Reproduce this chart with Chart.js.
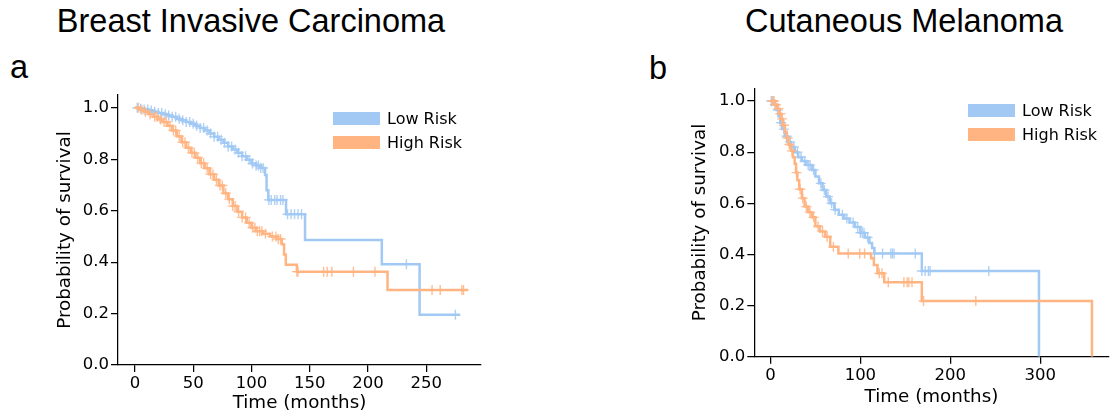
<!DOCTYPE html>
<html>
<head>
<meta charset="utf-8">
<script src="https://cdn.jsdelivr.net/npm/chart.js@4.4.1/dist/chart.umd.min.js"></script>
<style>
  body { margin: 0; background: #fff; width: 1115px; height: 419px; overflow: hidden; position: relative; }
  canvas { position: absolute; top: 0; }
  .title { position: absolute; font-family: "Liberation Sans", Arial, sans-serif; font-size: 32.5px; line-height: 32px; white-space: nowrap; color: #000; transform: translateX(-50%); }
  .panel { position: absolute; font-family: "Liberation Sans", Arial, sans-serif; font-size: 32.5px; line-height: 32px; color: #000; }
  .leg { position: absolute; display: flex; align-items: center; font-family: "DejaVu Sans", sans-serif; font-size: 16px; color: #000; height: 13px; white-space: nowrap; }
  .leg span.patch { display: inline-block; width: 47px; height: 13px; margin-right: 7px; }
</style>
</head>
<body>
<div class="title" style="left:251px; top:5px;">Breast Invasive Carcinoma</div>
<div class="title" style="left:904px; top:5px;">Cutaneous Melanoma</div>
<div class="panel" style="left:10px; top:51px;">a</div>
<div class="panel" style="left:649px; top:52px;">b</div>
<canvas id="chartA" width="557" height="419" style="left:0"></canvas>
<canvas id="chartB" width="558" height="419" style="left:557px"></canvas>
<div id="legends"></div>
<script>
const groupNames = ["Low Risk", "High Risk"];
const groupColors = ["#a1c9f4", "#ffb482"];

// Breast Invasive Carcinoma - Kaplan-Meier steps
const brcaLowTime = [0, 4, 8, 12, 16, 20, 24, 28, 32, 36, 40, 44, 48, 52, 56, 60, 64, 68, 72, 76, 80, 84, 88, 92, 96, 100, 104, 108, 111.7, 113, 114.5, 129.7, 146, 211.9, 244.3, 279];
const brcaLowSurv = [1.0, 0.997, 0.994, 0.99, 0.985, 0.98, 0.975, 0.97, 0.965, 0.958, 0.952, 0.945, 0.938, 0.93, 0.922, 0.912, 0.9, 0.888, 0.876, 0.864, 0.85, 0.838, 0.825, 0.812, 0.798, 0.784, 0.776, 0.766, 0.739, 0.68, 0.642, 0.586, 0.486, 0.392, 0.195, 0.195];
const brcaLowCensor = [2, 5, 8, 11, 14, 17, 20, 23, 26, 29, 32, 35, 38, 41, 44, 47, 50, 53, 56, 59, 62, 65, 68, 71, 74, 77, 80, 83, 86, 89, 92, 95, 98, 101, 104, 106, 108, 110, 115, 117, 120, 122, 125, 127, 131, 134, 137, 140, 143, 233, 275];

const brcaHighTime = [0, 4, 8, 12, 16, 20, 24, 28, 32, 36, 40, 44, 48, 52, 56, 60, 64, 68, 72, 76, 80, 84, 88, 92, 96, 100, 104, 110, 116, 122, 126, 128, 129.5, 139, 216.8, 286];
const brcaHighSurv = [1.0, 0.993, 0.985, 0.975, 0.965, 0.955, 0.945, 0.93, 0.912, 0.89, 0.866, 0.845, 0.825, 0.806, 0.785, 0.765, 0.742, 0.72, 0.698, 0.668, 0.645, 0.618, 0.596, 0.574, 0.553, 0.534, 0.52, 0.51, 0.5, 0.49, 0.47, 0.43, 0.39, 0.363, 0.292, 0.292];
const brcaHighCensor = [3, 6, 9, 13, 17, 19, 22, 25, 27, 30, 33, 35, 38, 41, 43, 46, 49, 51, 54, 57, 59, 62, 65, 67, 70, 73, 75, 78, 81, 84, 86, 89, 92, 95, 98, 101, 103, 105, 107, 109, 112, 118, 121, 123, 125, 139, 140, 162, 165, 169, 187.5, 206, 255, 262, 280.6, 282];

// Cutaneous Melanoma - Kaplan-Meier steps
const skcmLowTime = [0, 4, 7, 9, 11, 13, 16, 19, 23, 27, 31, 35, 40, 46, 50, 54, 58, 62, 66, 71, 76, 82, 88, 94, 100, 105, 110, 113, 115.6, 168.3, 298.5];
const skcmLowSurv = [1.0, 0.985, 0.965, 0.94, 0.915, 0.89, 0.862, 0.84, 0.82, 0.8, 0.78, 0.765, 0.75, 0.73, 0.705, 0.678, 0.652, 0.626, 0.6, 0.575, 0.555, 0.54, 0.525, 0.507, 0.485, 0.466, 0.445, 0.425, 0.404, 0.335, 0];
const skcmLowCensor = [1, 3, 5, 8, 12, 15, 18, 22, 26, 30, 34, 38, 42, 44, 48, 56, 60, 64, 68, 72, 80, 85, 92, 97, 100, 102, 104, 108, 115.6, 124.7, 133.8, 135.6, 137.4, 161, 168.3, 172, 175.6, 177.4, 242.8];

const skcmHighTime = [0, 5, 8, 10, 12, 14, 16, 18, 20, 23, 25, 27, 28.5, 30, 32, 35, 38, 42, 46, 50, 55, 61, 66.5, 75.6, 112, 115, 119, 126.5, 168.3, 357.4];
const skcmHighSurv = [1.0, 0.985, 0.97, 0.95, 0.93, 0.905, 0.88, 0.855, 0.83, 0.805, 0.78, 0.755, 0.72, 0.69, 0.655, 0.62, 0.587, 0.565, 0.545, 0.51, 0.49, 0.469, 0.43, 0.404, 0.385, 0.359, 0.326, 0.291, 0.218, 0];
const skcmHighCensor = [2, 4, 6, 9, 11, 13, 15, 19, 21, 24, 29, 33, 36, 40, 44, 48, 53, 58, 63, 70, 86.5, 99.3, 104.7, 121, 124, 131, 148.4, 152, 153.8, 157.4, 170.2, 228.3];

// tick labels
const brcaXTicks = [0, 50, 100, 150, 200, 250];
const skcmXTicks = [0, 100, 200, 300];
const yTicks = [0, 0.2, 0.4, 0.6, 0.8, 1.0];

Chart.defaults.font.family = "DejaVu Sans";
Chart.defaults.color = "#000";

// survival value at time t (last step at or before t)
function survAt(times, surv, t) {
  let s = surv[0];
  for (let i = 0; i < times.length; i++) {
    if (times[i] <= t) s = surv[i];
  }
  return s;
}

function kmDatasets(times, surv, censor, color, order) {
  return [
    {
      type: "line",
      data: times.map((t, i) => ({ x: t, y: surv[i] })),
      borderColor: color,
      borderWidth: 2.5,
      stepped: "before",
      pointRadius: 0,
      fill: false,
      order: order,
    },
    {
      type: "scatter",
      data: censor.map((t) => ({ x: t, y: survAt(times, surv, t) })),
      pointStyle: "cross",
      pointRadius: 5,
      pointBorderWidth: 1.4,
      borderColor: color + "dd",
      backgroundColor: color,
      showLine: false,
      order: order,
    },
  ];
}

function axisOpts(o) {
  return {
    type: "linear",
    min: o.min,
    max: o.max,
    afterBuildTicks: (s) => { s.ticks = o.ticks.map((v) => ({ value: v })); },
    afterFit: o.fit,
    grid: { drawOnChartArea: false, drawTicks: true, tickLength: 7, color: "#000", lineWidth: 1.25 },
    border: { display: true, color: "#000", width: 1.25 },
    ticks: { font: { size: 16.5 }, padding: o.pad, callback: o.fmt },
    title: { display: true, text: o.title, font: { size: 18.3 }, padding: o.titlePad },
  };
}

function makeKM(id, low, high, xr, yPadTop, yWidth, xHeight, padRight, yTitlePad, xTitlePad) {
  return new Chart(document.getElementById(id), {
    type: "line",
    data: {
      datasets: [
        ...kmDatasets(low[0], low[1], low[2], groupColors[0], 2),
        ...kmDatasets(high[0], high[1], high[2], groupColors[1], 1),
      ],
    },
    options: {
      responsive: false,
      animation: false,
      layout: { padding: { top: yPadTop, right: padRight, left: 0, bottom: 0 } },
      plugins: { legend: { display: false }, tooltip: { enabled: false } },
      scales: {
        x: axisOpts({
          min: xr[0], max: xr[1], ticks: xr[2], pad: 2,
          fmt: (v) => String(v),
          fit: (s) => { s.height = xHeight; },
          title: "Time (months)", titlePad: { top: 0, bottom: xTitlePad },
        }),
        y: axisOpts({
          min: 0, max: 1.05, ticks: yTicks, pad: 2,
          fmt: (v) => v.toFixed(1),
          fit: (s) => { s.width = yWidth; },
          title: "Probability of survival", titlePad: { top: yTitlePad, bottom: 0 },
        }),
      },
    },
  });
}

makeKM("chartA",
  [brcaLowTime, brcaLowSurv, brcaLowCensor],
  [brcaHighTime, brcaHighSurv, brcaHighCensor],
  [-14.5, 297, brcaXTicks], 95, 118, 54, 76, 54, 5);

makeKM("chartB",
  [skcmLowTime, skcmLowSurv, skcmLowCensor],
  [skcmHighTime, skcmHighSurv, skcmHighCensor],
  [-17.9, 375.9, skcmXTicks], 88.2, 197.3, 62.3, 0, 132, 11);

// legends
const legendSpots = [
  { left: 333, top: 111.7, pitch: 24.3 },
  { left: 968, top: 104, pitch: 23.7 },
];
const holder = document.getElementById("legends");
legendSpots.forEach((spot) => {
  groupNames.forEach((name, i) => {
    const row = document.createElement("div");
    row.className = "leg";
    row.style.left = spot.left + "px";
    row.style.top = spot.top + i * spot.pitch + "px";
    row.innerHTML = '<span class="patch" style="background:' + groupColors[i] + '"></span>' + name;
    holder.appendChild(row);
  });
});
</script>
</body>
</html>
